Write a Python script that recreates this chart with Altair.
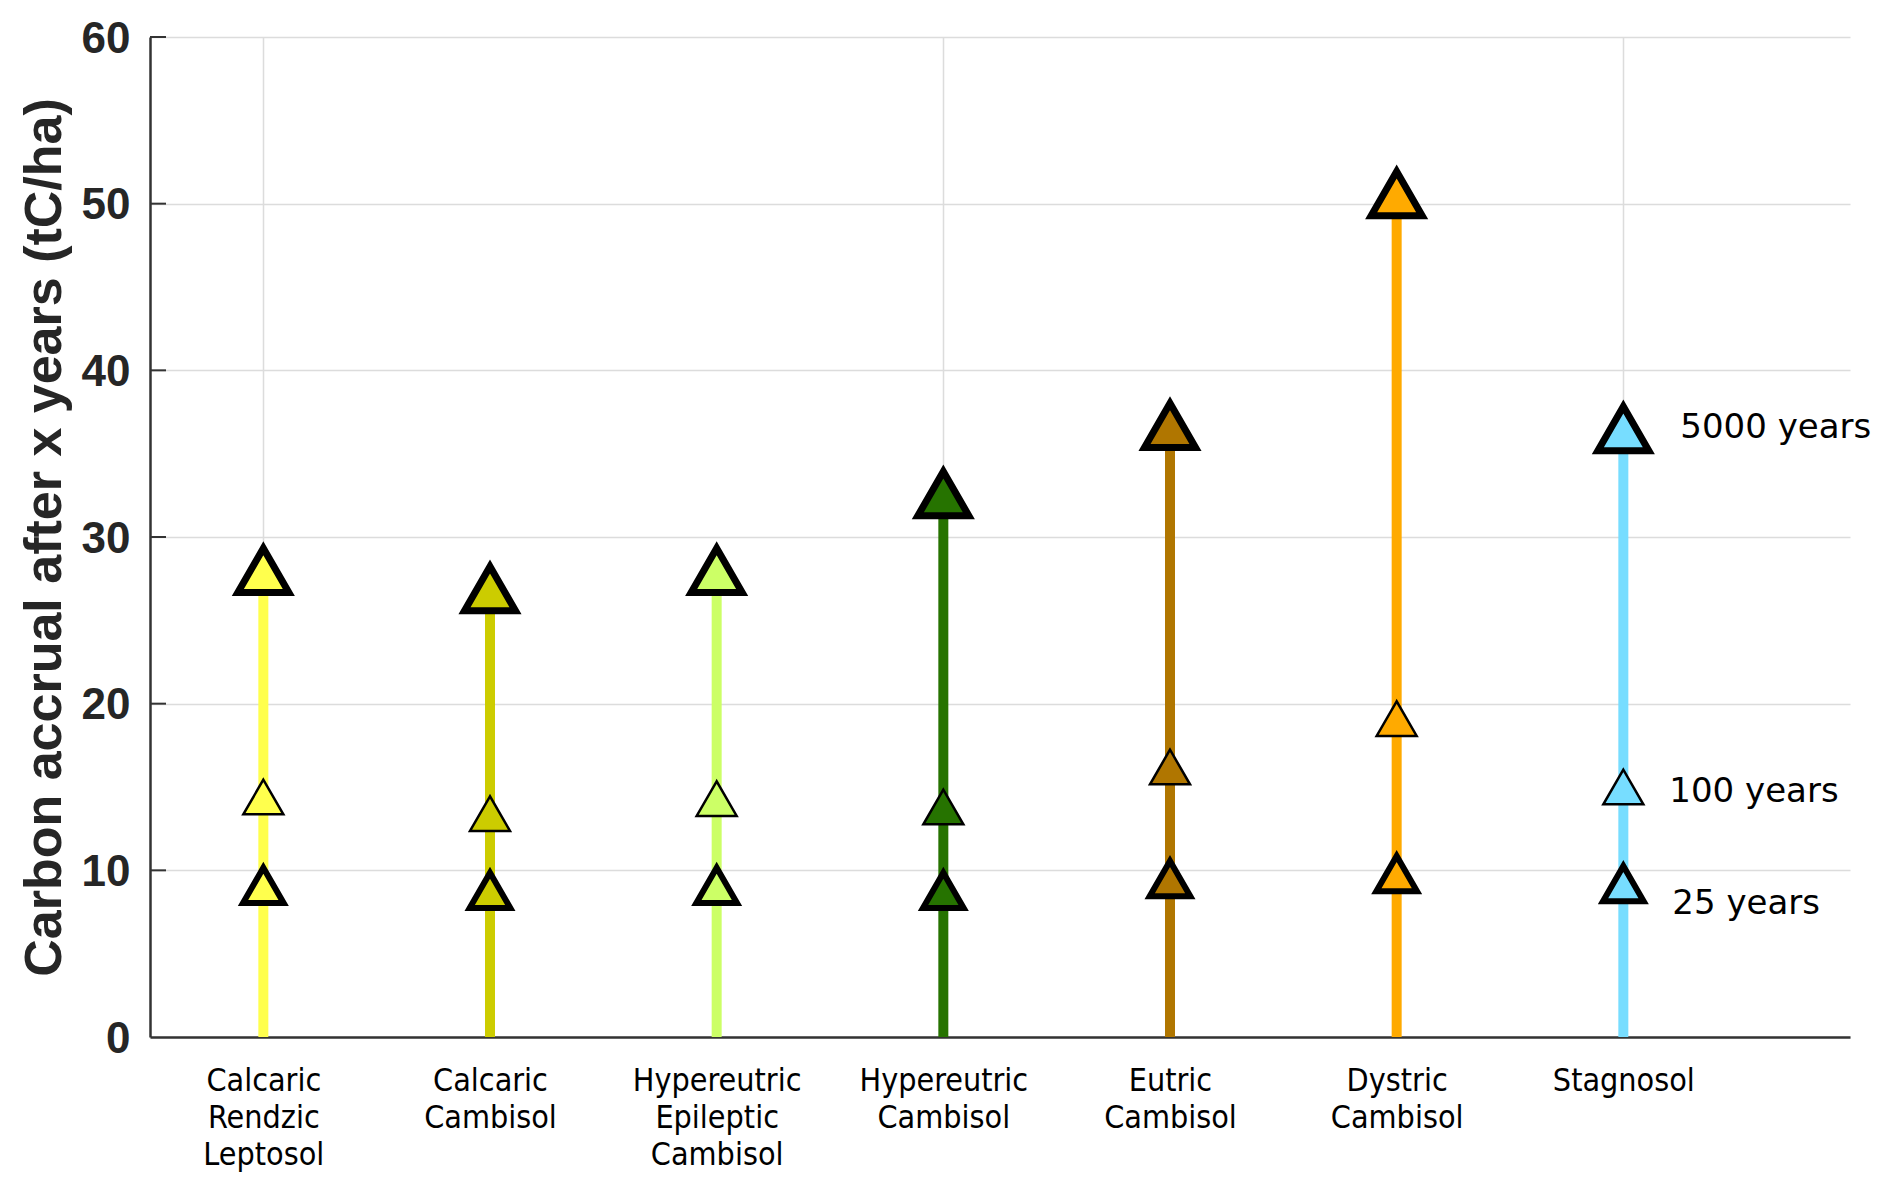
import json
import altair as alt
import pandas as pd

# ---- data ----
soils = ["Calcaric Rendzic Leptosol", "Calcaric Cambisol", "Hypereutric Epileptic Cambisol",
         "Hypereutric Cambisol", "Eutric Cambisol", "Dystric Cambisol", "Stagnosol"]
label_lines = [["Calcaric", "Rendzic", "Leptosol"], ["Calcaric", "Cambisol"],
               ["Hypereutric", "Epileptic", "Cambisol"], ["Hypereutric", "Cambisol"],
               ["Eutric", "Cambisol"], ["Dystric", "Cambisol"], ["Stagnosol"]]
colors = ["#FFFF4D", "#CCCC00", "#CCFF66", "#267300", "#B07600", "#FFAA00", "#77DDFF"]
c25 = [9.1, 8.8, 9.1, 8.8, 9.5, 9.8, 9.2]
c100 = [14.4, 13.4, 14.3, 13.8, 16.2, 19.1, 15.0]
c5000 = [28.0, 26.9, 28.0, 32.6, 36.7, 50.6, 36.5]
periods = ["25 years", "100 years", "5000 years"]
y_ticks = [0, 10, 20, 30, 40, 50, 60]
x_grid = [1, 4, 7]
y_title = "Carbon accrual after x years (tC/ha)"

df = pd.DataFrame({"pos": list(range(1, len(soils) + 1)), "soil": soils,
                   "c25": c25, "c100": c100, "c5000": c5000})
ann = pd.DataFrame({"pos": [len(soils)] * 3, "value": [c25[-1], c100[-1], c5000[-1]],
                    "label": periods})
ticks_df = pd.DataFrame({"v": y_ticks[1:]})

color_scale = alt.Scale(domain=soils, range=colors)
xscale = alt.Scale(domain=[0.5, 8], nice=False, zero=False)
yscale = alt.Scale(domain=[0, 60], nice=False)

xaxis = alt.Axis(
    values=list(range(1, len(soils) + 1)),
    labelExpr=f"{json.dumps(label_lines)}[datum.value - 1]",
    title=None, ticks=False, tickSize=0,
    labelFont="DejaVu Sans Condensed", labelFontSize=32, labelColor="black",
    labelLineHeight=37, labelBaseline="top", labelPadding=28, labelAlign="center",
    labelOverlap=False, labelFlush=False,
    domainColor="#333333", domainWidth=2.5,
    grid=True, gridColor="#dcdcdc", gridWidth=1.5,
    gridOpacity={"condition": {"test": f"indexof({json.dumps(x_grid)}, datum.value) >= 0",
                               "value": 1}, "value": 0},
)
yaxis = alt.Axis(
    values=y_ticks, title=y_title,
    titleFont="Liberation Sans", titleFontSize=52, titleFontWeight="bold", titleColor="#262626",
    titleX=-90, titleY=500, titleAngle=-90, titleBaseline="alphabetic", titleAlign="center",
    labelFont="Liberation Sans", labelFontSize=44, labelFontWeight="bold", labelColor="#262626",
    labelPadding=20, labelOffset=2, ticks=False, tickSize=0,
    domainColor="#333333", domainWidth=2.5,
    grid=True, gridColor="#dcdcdc", gridWidth=1.5,
)


def X(field):
    return alt.X(f"{field}:Q", scale=xscale, axis=xaxis)


def Y(field):
    return alt.Y(f"{field}:Q", scale=yscale, axis=yaxis)


base = alt.Chart(df)

stems = base.mark_rule(strokeWidth=10).encode(
    x=X("pos"),
    y=Y("c5000"),
    y2=alt.datum(0),
    color=alt.Color("soil:N", scale=color_scale, legend=None),
)

inticks = alt.Chart(ticks_df).mark_rule(color="#333333", strokeWidth=2).encode(
    x=alt.value(0), x2=alt.value(16),
    y=Y("v"),
)


def tri(field, size, sw):
    return base.mark_point(shape="triangle-up", filled=True, stroke="black",
                           strokeWidth=sw, size=size, opacity=1,
                           strokeJoin="miter").encode(
        x=X("pos"),
        y=Y(field),
        fill=alt.Fill("soil:N", scale=color_scale, legend=None),
    )


t25 = tri("c25", 1650, 6)
t100 = tri("c100", 1600, 2.5)
t5000 = tri("c5000", 2600, 7)


def note(label, dx, dy):
    return alt.Chart(ann).transform_filter(alt.datum.label == label).mark_text(
        align="left", baseline="alphabetic", font="DejaVu Sans", fontSize=34,
        color="black", dx=dx, dy=dy,
    ).encode(
        x=X("pos"),
        y=Y("value"),
        text="label:N",
    )


notes = note(periods[2], 57, 9) + note(periods[1], 46, 15) + note(periods[0], 49, 30)

chart = alt.layer(stems, inticks, t25, t100, t5000, notes).properties(
    width=1700, height=1000,
    autosize=alt.AutoSizeParams(type="none"),
    padding={"left": 142, "top": 29, "right": 34, "bottom": 140},
    background="white",
).configure_view(stroke=None)

chart.save("out.html", embed_options={"renderer": "svg", "actions": False})
